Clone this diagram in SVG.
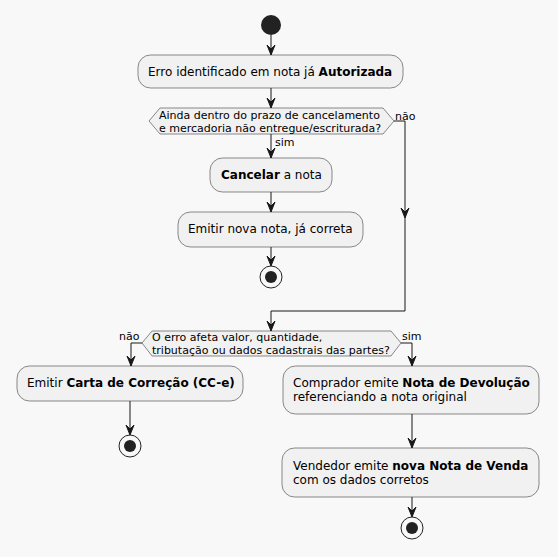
<svg xmlns="http://www.w3.org/2000/svg" width="558" height="557" viewBox="0 0 558 557">
<defs>
<style>
.bg{fill:#F8F8F8}
.act{fill:#F1F1F1;stroke:#181818;stroke-width:0.5}
.t{font-family:"DejaVu Sans",sans-serif;font-size:12px;fill:#000}
.s{font-family:"DejaVu Sans",sans-serif;font-size:11px;fill:#000}
.b{font-weight:bold}
.ln{fill:none;stroke:#181818;stroke-width:1}
.ah{fill:#181818;stroke:#181818;stroke-width:1}
.dot{fill:#222222}
</style>
</defs>
<rect class="bg" x="0" y="0" width="558" height="557"/>
<g id="connectors">
<path class="ln" d="M271,35 L271,55"/><polygon class="ah" points="267,45 271,55 275,45 271,49"/>
<path class="ln" d="M271,88 L271,108"/><polygon class="ah" points="267,98 271,108 275,98 271,102"/>
<path class="ln" d="M271,134 L271,158"/><polygon class="ah" points="267,148 271,158 275,148 271,152"/>
<text class="s" x="275" y="146">sim</text>
<path class="ln" d="M271,192 L271,212"/><polygon class="ah" points="267,202 271,212 275,202 271,206"/>
<path class="ln" d="M271,247 L271,266"/><polygon class="ah" points="267,256 271,266 275,256 271,260"/>
<path class="ln" d="M394,121 L405,121 L405,311 L271,311 L271,331"/>
<polygon class="ah" points="401,208 405,218 409,208 405,212"/>
<polygon class="ah" points="267,321 271,331 275,321 271,325"/>
<text class="s" x="395" y="120">não</text>
<path class="ln" d="M142,343 L131,343 L131,366"/><polygon class="ah" points="127,356 131,366 135,356 131,360"/>
<text class="s" x="119" y="340">não</text>
<path class="ln" d="M401,343 L412,343 L412,366"/><polygon class="ah" points="408,356 412,366 416,356 412,360"/>
<text class="s" x="402" y="340">sim</text>
<path class="ln" d="M130,401 L130,435"/><polygon class="ah" points="126,425 130,435 134,425 130,429"/>
<path class="ln" d="M412,414 L412,448"/><polygon class="ah" points="408,438 412,448 416,438 412,442"/>
<path class="ln" d="M412,497 L412,517"/><polygon class="ah" points="408,507 412,517 416,507 412,511"/>
</g>
<g id="start"><circle class="dot" cx="271" cy="25" r="10"/></g>
<g id="erro">
<rect class="act" x="138" y="55" width="265" height="33" rx="12.5"/>
<text class="t" x="148" y="76">Erro identificado em nota já <tspan class="b">Autorizada</tspan></text>
</g>
<g id="decisao1">
<polygon class="act" points="149,121 160,108 383,108 394,121 383,134 160,134"/>
<text class="s" x="159" y="119">Ainda dentro do prazo de cancelamento</text>
<text class="s" x="159" y="132">e mercadoria não entregue/escriturada?</text>
</g>
<g id="cancelar">
<rect class="act" x="210" y="158" width="122" height="34" rx="12.5"/>
<text class="t" x="221" y="179"><tspan class="b">Cancelar</tspan> a nota</text>
</g>
<g id="emitirnova">
<rect class="act" x="178" y="212" width="185" height="35" rx="12.5"/>
<text class="t" x="188" y="233">Emitir nova nota, já correta</text>
</g>
<g id="end1"><circle cx="271" cy="277" r="11" fill="none" stroke="#222222" stroke-width="1"/><circle class="dot" cx="271" cy="277" r="6"/></g>
<g id="decisao2">
<polygon class="act" points="142,343 152,331 391,331 401,343 391,356 152,356"/>
<text class="s" x="152" y="341">O erro afeta valor, quantidade,</text>
<text class="s" x="152" y="354">tributação ou dados cadastrais das partes?</text>
</g>
<g id="cce">
<rect class="act" x="17" y="366" width="226" height="35" rx="12.5"/>
<text class="t" x="27" y="387">Emitir <tspan class="b">Carta de Correção (CC-e)</tspan></text>
</g>
<g id="end2"><circle cx="130" cy="446" r="11" fill="none" stroke="#222222" stroke-width="1"/><circle class="dot" cx="130" cy="446" r="6"/></g>
<g id="devolucao">
<rect class="act" x="283" y="366" width="256" height="48" rx="12.5"/>
<text class="t" x="293" y="387">Comprador emite <tspan class="b">Nota de Devolução</tspan></text>
<text class="t" x="293" y="401">referenciando a nota original</text>
</g>
<g id="venda">
<rect class="act" x="282" y="448" width="257" height="49" rx="12.5"/>
<text class="t" x="293" y="470">Vendedor emite <tspan class="b">nova Nota de Venda</tspan></text>
<text class="t" x="293" y="484">com os dados corretos</text>
</g>
<g id="end3"><circle cx="412" cy="528" r="11" fill="none" stroke="#222222" stroke-width="1"/><circle class="dot" cx="412" cy="528" r="6"/></g>
</svg>
